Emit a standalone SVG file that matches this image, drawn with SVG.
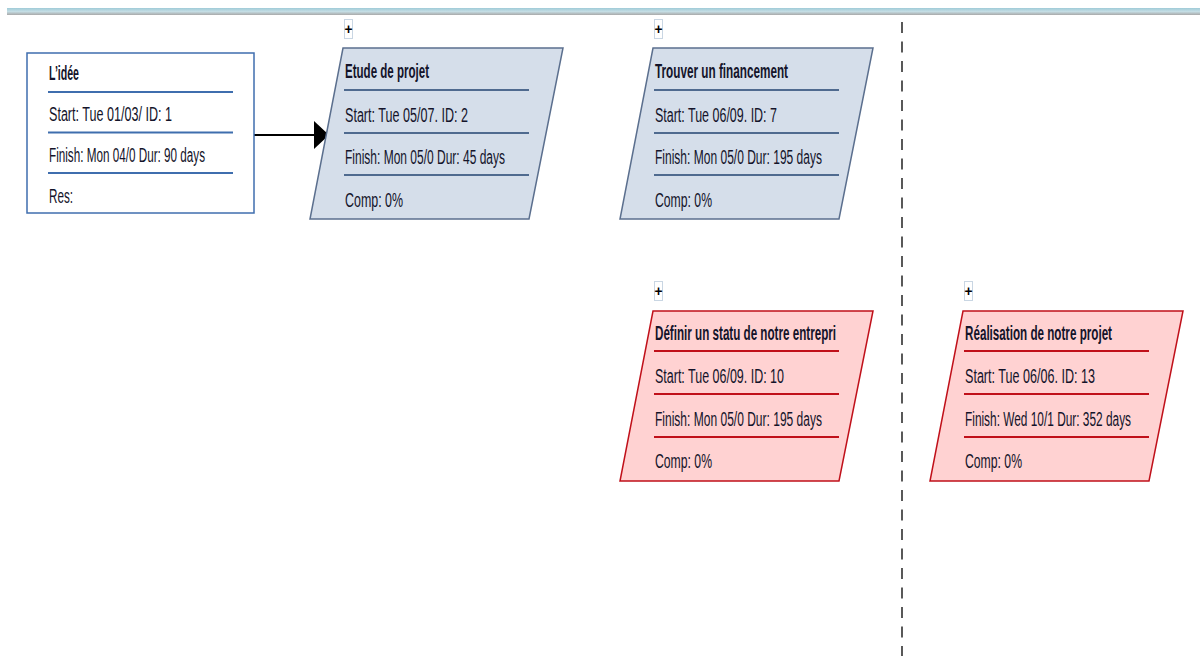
<svg xmlns="http://www.w3.org/2000/svg" width="1200" height="656" viewBox="0 0 1200 656">
<defs>
<linearGradient id="bar" x1="0" y1="0" x2="0" y2="1">
<stop offset="0" stop-color="#9fcbd8"/>
<stop offset="0.5" stop-color="#c4dde4"/>
<stop offset="1" stop-color="#a9a9a9"/>
</linearGradient>
<marker id="arr" viewBox="0 0 10 10" refX="10" refY="5" markerWidth="15" markerHeight="28" markerUnits="userSpaceOnUse" orient="auto" preserveAspectRatio="none">
<path d="M0,0 L10,5 L0,10 Z" fill="#000"/>
</marker>
<style>
text{font-family:"Liberation Sans",Arial,sans-serif;font-size:21px;fill:#14142a}
.t{font-weight:bold}
.blue{fill:#d5deea;stroke:#5b6f8e;stroke-width:1.5}
.red{fill:#ffd2d2;stroke:#c0101a;stroke-width:1.5}
.sb{stroke:#4f6a8f;stroke-width:2.2}
.sr{stroke:#c0101a;stroke-width:2.2}
.plus rect{fill:#fff;stroke:#c9d6e3;stroke-width:1}
.plus text{font-size:15px;font-weight:bold;fill:#000}
</style>
</defs>
<rect x="0" y="0" width="1200" height="656" fill="#fff"/>
<rect x="7" y="8" width="1193" height="7" fill="url(#bar)"/>
<line x1="902" y1="22" x2="902" y2="656" stroke="#000" stroke-width="1.3" stroke-dasharray="11 8.5"/>

<g id="connectors">
<line x1="254" y1="135" x2="329" y2="135" stroke="#000" stroke-width="2" marker-end="url(#arr)"/>
</g>

<g id="n1">
<rect x="27" y="53" width="227" height="160" fill="#fff" stroke="#3f6eae" stroke-width="1.5"/>
<line class="sb" x1="48" y1="92" x2="233" y2="92" style="stroke:#3f6eae"/>
<line class="sb" x1="48" y1="132.5" x2="233" y2="132.5" style="stroke:#3f6eae"/>
<line class="sb" x1="48" y1="173" x2="233" y2="173" style="stroke:#3f6eae"/>
<g transform="translate(49 0) scale(0.6 1)">
<text class="t" x="0" y="80" textLength="50" lengthAdjust="spacingAndGlyphs">L’idée</text>
<text x="0" y="121" textLength="205" lengthAdjust="spacingAndGlyphs">Start: Tue 01/03/ ID: 1</text>
<text x="0" y="162" textLength="260" lengthAdjust="spacingAndGlyphs">Finish: Mon 04/0 Dur: 90 days</text>
<text x="0" y="203" textLength="40" lengthAdjust="spacingAndGlyphs">Res:</text>
</g>
</g>

<g id="n2">
<g class="plus"><rect x="344.5" y="19.5" width="8" height="19"/><text x="344.5" y="34" textLength="8" lengthAdjust="spacingAndGlyphs">+</text></g>
<polygon class="blue" points="343,48 563,48 529,219 310,219"/>
<line class="sb" x1="344" y1="90" x2="529" y2="90"/>
<line class="sb" x1="344" y1="133" x2="529" y2="133"/>
<line class="sb" x1="344" y1="175" x2="529" y2="175"/>
<g transform="translate(345 0) scale(0.6 1)">
<text class="t" x="0" y="78" textLength="140" lengthAdjust="spacingAndGlyphs">Etude de projet</text>
<text x="0" y="122" textLength="205" lengthAdjust="spacingAndGlyphs">Start: Tue 05/07. ID: 2</text>
<text x="0" y="164" textLength="266.7" lengthAdjust="spacingAndGlyphs">Finish: Mon 05/0 Dur: 45 days</text>
<text x="0" y="207" textLength="96.7" lengthAdjust="spacingAndGlyphs">Comp: 0%</text>
</g>
</g>

<g id="n7">
<g class="plus"><rect x="654.5" y="19.5" width="8" height="19"/><text x="654.5" y="34" textLength="8" lengthAdjust="spacingAndGlyphs">+</text></g>
<polygon class="blue" points="653,48 873,48 839,219 620,219"/>
<line class="sb" x1="654" y1="90" x2="839" y2="90"/>
<line class="sb" x1="654" y1="133" x2="839" y2="133"/>
<line class="sb" x1="654" y1="175" x2="839" y2="175"/>
<g transform="translate(655 0) scale(0.6 1)">
<text class="t" x="0" y="78" textLength="221.7" lengthAdjust="spacingAndGlyphs">Trouver un financement</text>
<text x="0" y="122" textLength="203.3" lengthAdjust="spacingAndGlyphs">Start: Tue 06/09. ID: 7</text>
<text x="0" y="164" textLength="278.3" lengthAdjust="spacingAndGlyphs">Finish: Mon 05/0 Dur: 195 days</text>
<text x="0" y="207" textLength="95" lengthAdjust="spacingAndGlyphs">Comp: 0%</text>
</g>
</g>

<g id="n10">
<g class="plus"><rect x="654.5" y="281.5" width="8" height="19"/><text x="654.5" y="296" textLength="8" lengthAdjust="spacingAndGlyphs">+</text></g>
<polygon class="red" points="653,311 873,311 839,481 620,481"/>
<line class="sr" x1="654" y1="351" x2="839" y2="351"/>
<line class="sr" x1="654" y1="394" x2="839" y2="394"/>
<line class="sr" x1="654" y1="437" x2="839" y2="437"/>
<g transform="translate(655 0) scale(0.6 1)">
<text class="t" x="0" y="340" textLength="301.7" lengthAdjust="spacingAndGlyphs">Définir un statu de notre entrepri</text>
<text x="0" y="383" textLength="215" lengthAdjust="spacingAndGlyphs">Start: Tue 06/09. ID: 10</text>
<text x="0" y="426" textLength="278.3" lengthAdjust="spacingAndGlyphs">Finish: Mon 05/0 Dur: 195 days</text>
<text x="0" y="468" textLength="95" lengthAdjust="spacingAndGlyphs">Comp: 0%</text>
</g>
</g>

<g id="n13">
<g class="plus"><rect x="964.5" y="281.5" width="8" height="19"/><text x="964.5" y="296" textLength="8" lengthAdjust="spacingAndGlyphs">+</text></g>
<polygon class="red" points="963,311 1183,311 1149,481 930,481"/>
<line class="sr" x1="964" y1="351" x2="1149" y2="351"/>
<line class="sr" x1="964" y1="394" x2="1149" y2="394"/>
<line class="sr" x1="964" y1="437" x2="1149" y2="437"/>
<g transform="translate(965 0) scale(0.6 1)">
<text class="t" x="0" y="340" textLength="245" lengthAdjust="spacingAndGlyphs">Réalisation de notre projet</text>
<text x="0" y="383" textLength="216.7" lengthAdjust="spacingAndGlyphs">Start: Tue 06/06. ID: 13</text>
<text x="0" y="426" textLength="276.7" lengthAdjust="spacingAndGlyphs">Finish: Wed 10/1 Dur: 352 days</text>
<text x="0" y="468" textLength="95" lengthAdjust="spacingAndGlyphs">Comp: 0%</text>
</g>
</g>
</svg>
